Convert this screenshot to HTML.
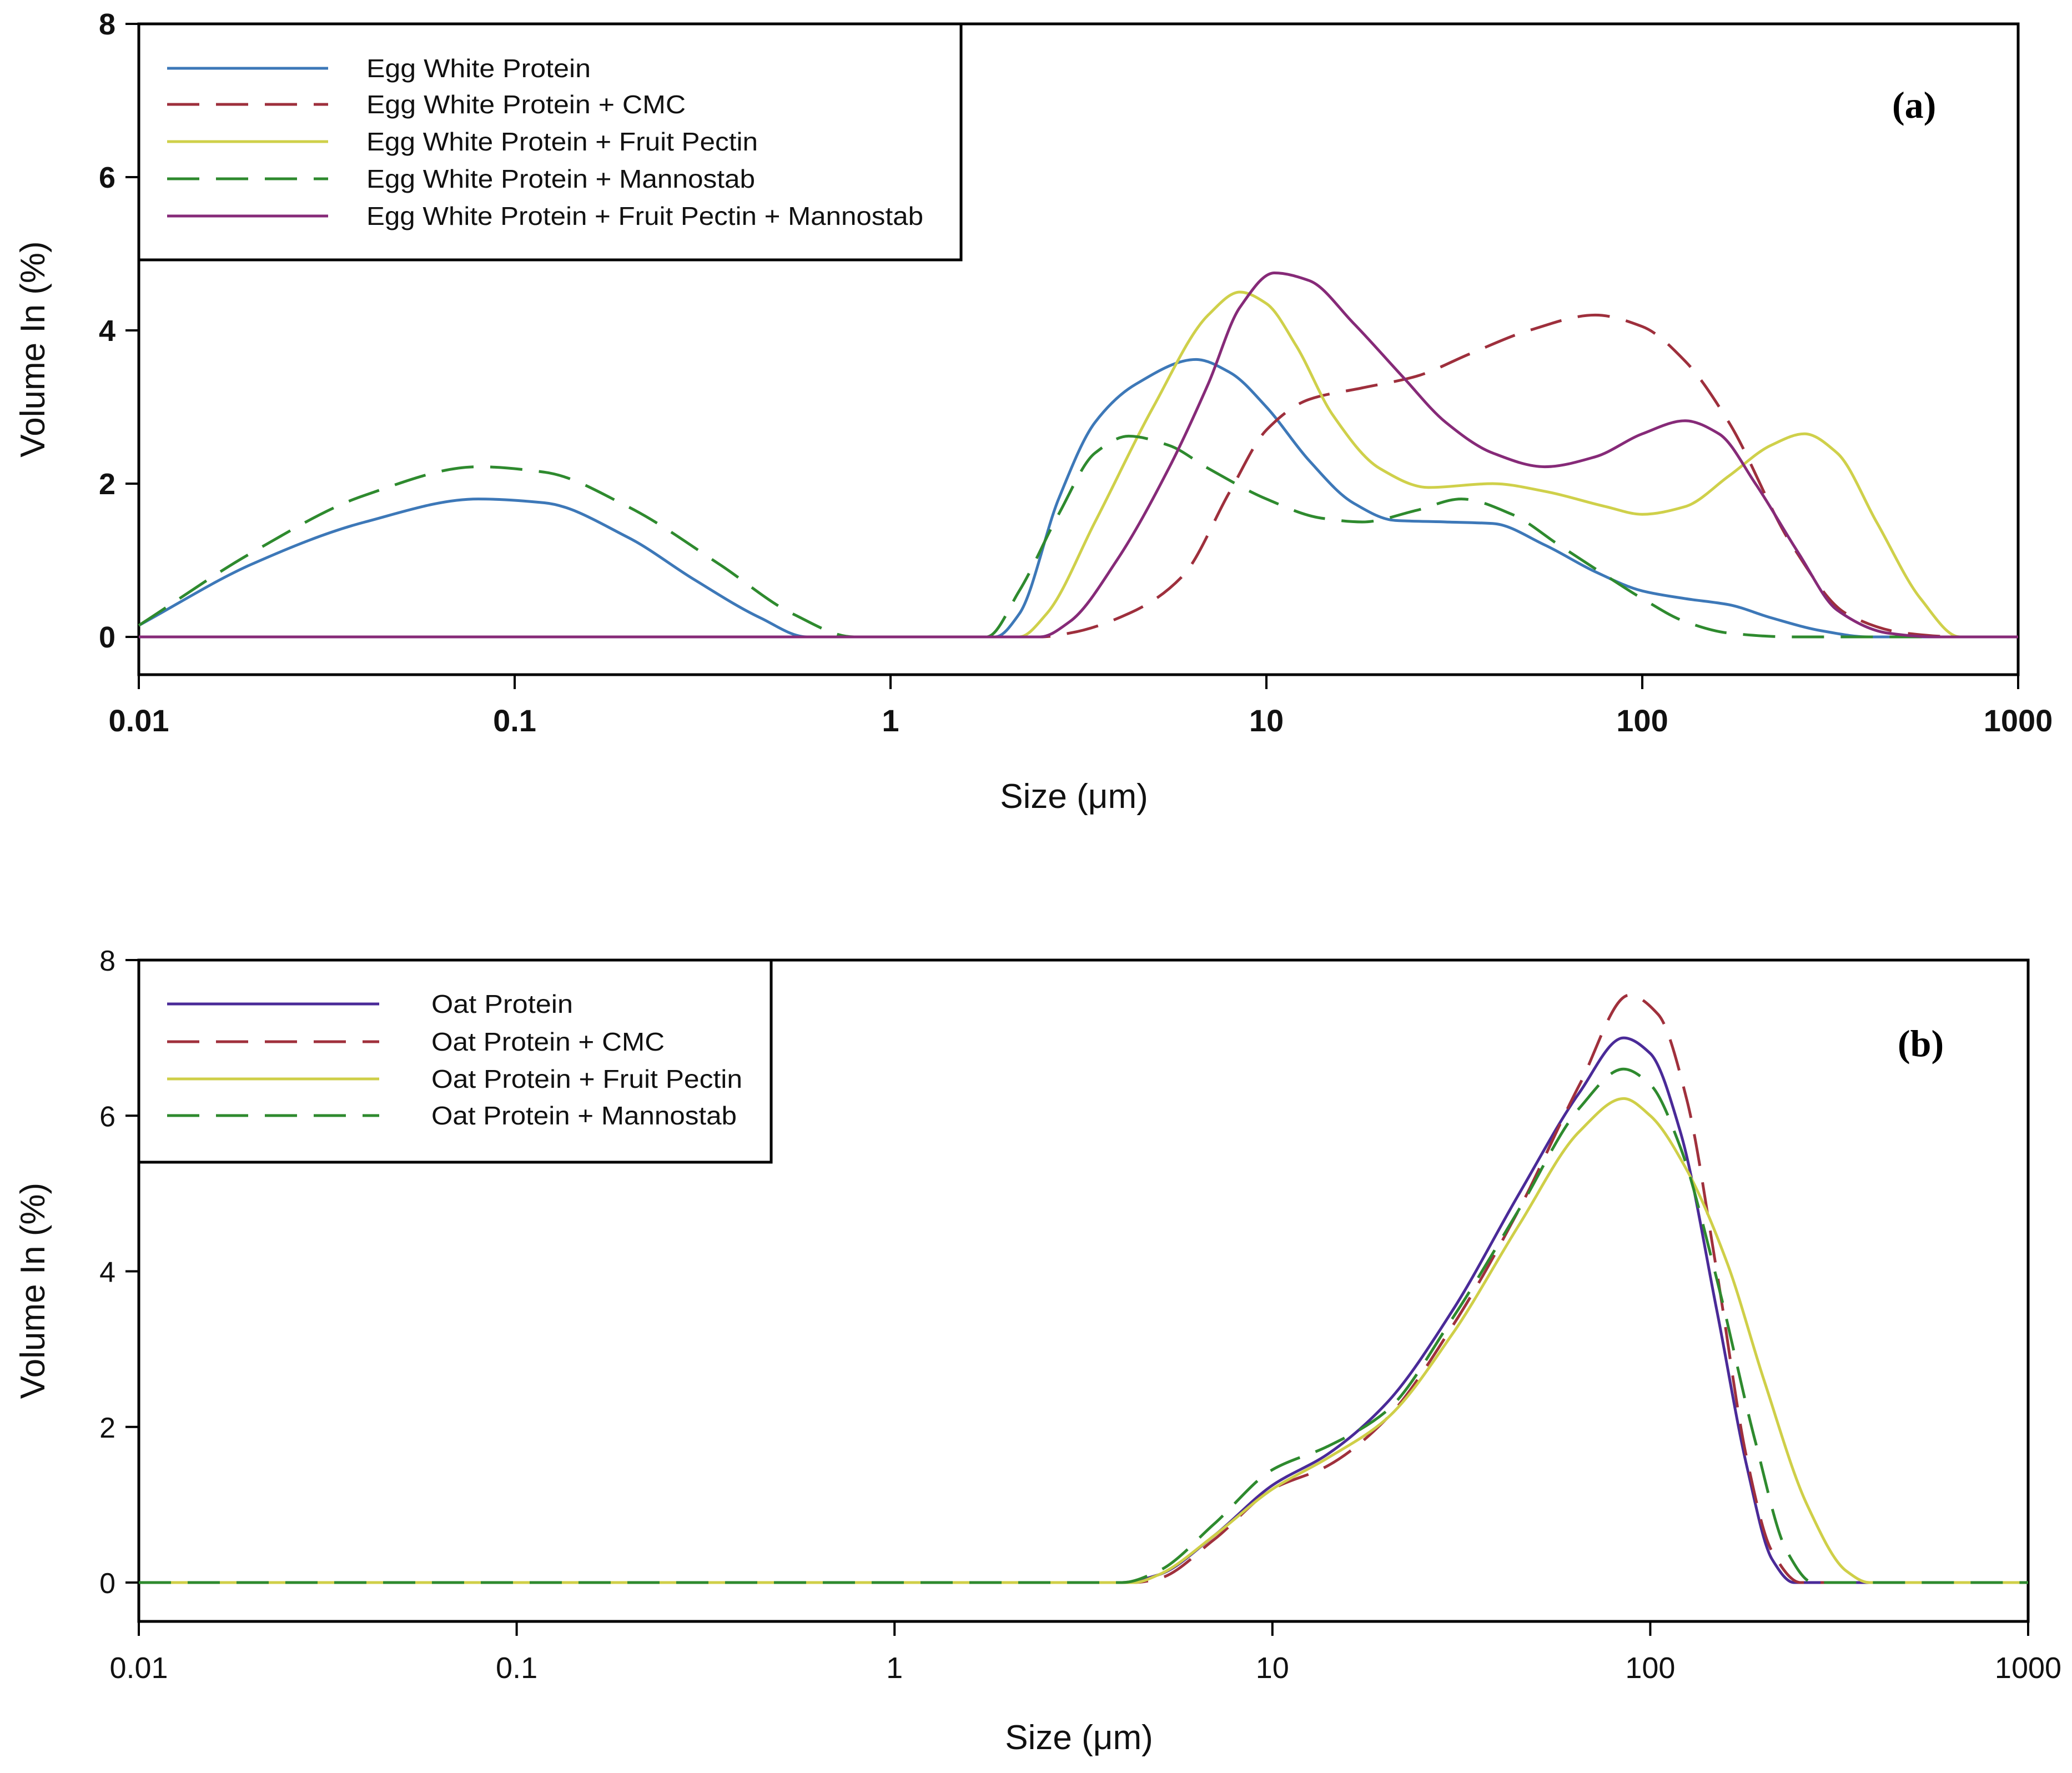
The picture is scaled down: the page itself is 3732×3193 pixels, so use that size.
<!DOCTYPE html>
<html><head><meta charset="utf-8"><style>
html,body{margin:0;padding:0;background:#fff;}
svg{display:block;font-family:"Liberation Sans",sans-serif;}
</style></head><body>
<svg id="fig" width="3732" height="3193" viewBox="0 0 3732 3193" xmlns="http://www.w3.org/2000/svg"></svg>
<script>
// ---------- data ----------
const xTickLabels = ["0.01","0.1","1","10","100","1000"];
const yTickLabels = ["0","2","4","6","8"];
const seriesNamesA = ["Egg White Protein","Egg White Protein + CMC","Egg White Protein + Fruit Pectin","Egg White Protein + Mannostab","Egg White Protein + Fruit Pectin + Mannostab"];
const seriesNamesB = ["Oat Protein","Oat Protein + CMC","Oat Protein + Fruit Pectin","Oat Protein + Mannostab"];
// panel (a) [size µm, volume %]
const ewp = [[0.01,0.15],[0.02,0.95],[0.04,1.5],[0.08,1.8],[0.12,1.75],[0.2,1.3],[0.3,0.75],[0.45,0.25],[0.6,0],[1.9,0],[2.2,0.3],[2.8,1.8],[3.5,2.8],[4.5,3.3],[6.5,3.62],[8,3.45],[10,3.0],[13,2.3],[17,1.75],[22,1.52],[30,1.5],[40,1.48],[55,1.2],[75,0.85],[100,0.6],[130,0.5],[170,0.42],[220,0.25],[300,0.08],[400,0],[1000,0]];
const ewpCmc = [[0.01,0],[2.5,0],[3,0.05],[4.5,0.35],[6,0.8],[8,1.9],[10,2.7],[13,3.1],[18,3.25],[25,3.4],[35,3.7],[50,4.0],[75,4.2],[100,4.05],[130,3.6],[170,2.8],[250,1.2],[350,0.3],[500,0.05],[700,0],[1000,0]];
const ewpPectin = [[0.01,0],[2.2,0],[2.6,0.3],[3.5,1.5],[5,3.0],[7,4.2],[8.5,4.5],[10,4.35],[12,3.8],[15,2.9],[20,2.2],[27,1.95],[40,2.0],[55,1.9],[80,1.7],[100,1.6],[130,1.7],[170,2.1],[220,2.5],[270,2.65],[330,2.4],[420,1.5],[550,0.5],[700,0],[1000,0]];
const ewpManno = [[0.01,0.15],[0.02,1.1],[0.04,1.85],[0.08,2.22],[0.12,2.15],[0.2,1.7],[0.35,0.95],[0.55,0.3],[0.8,0],[1.8,0],[2.2,0.6],[2.8,1.6],[3.5,2.4],[4.3,2.62],[5.5,2.5],[7,2.2],[10,1.8],[14,1.55],[18,1.5],[25,1.65],[33,1.8],[45,1.6],[60,1.2],[80,0.8],[100,0.5],[130,0.2],[170,0.05],[250,0],[1000,0]];
const ewpPecManno = [[0.01,0],[2.5,0],[3,0.2],[4,1.0],[5.5,2.2],[7,3.3],[8.5,4.3],[10.5,4.75],[13,4.65],[17,4.1],[23,3.4],[30,2.8],[40,2.4],[55,2.22],[75,2.35],[100,2.65],[130,2.82],[160,2.65],[200,2.0],[260,1.1],[330,0.35],[450,0.05],[600,0],[1000,0]];
// panel (b)
const oat = [[0.01,0],[4,0],[5,0.1],[7,0.6],[10,1.25],[14,1.65],[20,2.3],[30,3.5],[45,5.0],[65,6.3],[85,7.0],[100,6.8],[120,5.8],[150,3.5],[180,1.5],[210,0.3],[240,0],[1000,0]];
const oatCmc = [[0.01,0],[4.3,0],[5,0.05],[7,0.55],[10,1.2],[14,1.5],[20,2.1],[30,3.3],[45,4.8],[65,6.4],[88,7.55],[105,7.3],[125,6.2],[150,4.0],[180,1.6],[210,0.4],[250,0],[1000,0]];
const oatPectin = [[0.01,0],[4.3,0],[5,0.1],[7,0.6],[10,1.2],[14,1.6],[20,2.1],[30,3.2],[45,4.6],[65,5.8],[85,6.22],[100,6.0],[125,5.3],[160,4.1],[200,2.6],[260,1.0],[330,0.15],[380,0],[1000,0]];
const oatManno = [[0.01,0],[4,0],[5,0.15],[7,0.75],[10,1.45],[14,1.75],[20,2.2],[30,3.4],[45,4.8],[65,6.1],[85,6.6],[100,6.4],[120,5.6],[150,3.9],[190,1.8],[230,0.4],[270,0],[1000,0]];

// ---------- drawing ----------
const NS="http://www.w3.org/2000/svg";
const svg=document.getElementById('fig');
function mk(tag,attrs,parent){const e=document.createElementNS(NS,tag);for(const k in attrs)e.setAttribute(k,attrs[k]);(parent||svg).appendChild(e);return e;}
// monotone cubic (Fritsch-Carlson) in pixel space; x strictly increasing
function smooth(p){const n=p.length,dx=[],sl=[],m=[];
 for(let i=0;i<n-1;i++){dx[i]=p[i+1][0]-p[i][0];sl[i]=(p[i+1][1]-p[i][1])/dx[i];}
 m[0]=sl[0];m[n-1]=sl[n-2];
 for(let i=1;i<n-1;i++){if(sl[i-1]*sl[i]<=0)m[i]=0;else{const w1=2*dx[i]+dx[i-1],w2=dx[i]+2*dx[i-1];m[i]=(w1+w2)/(w1/sl[i-1]+w2/sl[i]);}}
 if(sl[0]===0)m[0]=0; if(sl[n-2]===0)m[n-1]=0;
 let d=`M${p[0][0].toFixed(1)},${p[0][1].toFixed(1)}`;
 for(let i=0;i<n-1;i++){const h=dx[i]/3;
  d+=` C${(p[i][0]+h).toFixed(1)},${(p[i][1]+m[i]*h).toFixed(1)} ${(p[i+1][0]-h).toFixed(1)},${(p[i+1][1]-m[i+1]*h).toFixed(1)} ${p[i+1][0].toFixed(1)},${p[i+1][1].toFixed(1)}`;}
 return d;}

function panel(cfg){
 const g=mk('g',{});
 
 
 const X=v=>cfg.left+(Math.log10(v)+2)/5*(cfg.right-cfg.left);
 const Y=v=>cfg.y0-v/8*(cfg.y0-cfg.y8);
 const fr=mk('path',{d:`M${cfg.left},${cfg.y8} H${cfg.right} V${cfg.bottom} H${cfg.left} Z`,fill:'none',stroke:'#000','stroke-width':5},g);
 
 yTickLabels.forEach(t=>{const y=Y(+t);
  mk('line',{x1:cfg.left-24,x2:cfg.left,y1:y,y2:y,stroke:'#000','stroke-width':4},g);
  const tx=mk('text',{x:cfg.left-42,y:y+19,'text-anchor':'end','font-size':cfg.bold?54:52,'font-weight':cfg.bold?'bold':'normal',fill:'#111'},g);
  tx.textContent=t;});
 xTickLabels.forEach(t=>{const x=X(+t);
  mk('line',{x1:x,x2:x,y1:cfg.bottom,y2:cfg.bottom+26,stroke:'#000','stroke-width':4},g);
  const tx=mk('text',{x:x,y:cfg.bottom+102,'text-anchor':'middle','font-size':cfg.bold?56:54,'font-weight':cfg.bold?'bold':'normal',fill:'#111'},g);
  tx.textContent=t;});
 const xt=mk('text',{x:(cfg.left+cfg.right)/2-8,y:cfg.xTitleY,'text-anchor':'middle','font-size':62,fill:'#111'},g);
 xt.textContent='Size (μm)';
 const ym=(cfg.y8+cfg.bottom)/2;
 const yt=mk('text',{x:0,y:0,transform:`translate(80,${ym}) rotate(-90)`,'text-anchor':'middle','font-size':62,fill:'#111'},g);
 yt.textContent='Volume In (%)';
 cfg.series.forEach((s,i)=>{
  const pts=s.data.map(p=>[X(p[0]),Y(p[1])]);
  const a={d:smooth(pts),fill:'none',stroke:s.color,'stroke-width':5,'stroke-linejoin':'round'};
  if(s.dash)a['stroke-dasharray']='58 30';
  const p=mk('path',a,g);
  
  
 });
 const lg=mk('g',{},g);
 
 
 mk('rect',{x:cfg.left,y:cfg.y8,width:cfg.legW,height:cfg.legH,fill:'#fff',stroke:'#000','stroke-width':5},lg);
 cfg.series.forEach((s,i)=>{const y=cfg.legRows[i];
  const a={x1:301,x2:cfg.legLineEnd,y1:y,y2:y,stroke:s.color,'stroke-width':5};
  if(s.dash)a['stroke-dasharray']='58 30';
  mk('line',a,lg);
  const tx=mk('text',{x:cfg.legTextX,y:y+16,'font-size':46,fill:'#111',textLength:s.tl,lengthAdjust:'spacingAndGlyphs'},lg);
  tx.textContent=s.name;});
 const lab=mk('text',{x:cfg.labX,y:cfg.labY,'font-size':68,'font-weight':'bold','font-family':'Liberation Serif, serif',fill:'#000'},g);
 lab.textContent=cfg.label;
}

panel({name:'panel-a',left:250,right:3635,y0:1147,y8:43,bottom:1215,bold:true,xTitleY:1455,
 legW:1481,legH:425,legRows:[123,188,255,322,389],legLineEnd:591,legTextX:660,label:'(a)',labX:3408,labY:212,
 series:[
  {name:seriesNamesA[0],data:ewp,color:'#3d78b8',dash:false,tl:404},
  {name:seriesNamesA[1],data:ewpCmc,color:'#9e2f3c',dash:true,tl:575},
  {name:seriesNamesA[2],data:ewpPectin,color:'#cfd04a',dash:false,tl:705},
  {name:seriesNamesA[3],data:ewpManno,color:'#2e8a2e',dash:true,tl:700},
  {name:seriesNamesA[4],data:ewpPecManno,color:'#862a78',dash:false,tl:1003}]});
panel({name:'panel-b',left:250,right:3653,y0:2850,y8:1729,bottom:2920,bold:false,xTitleY:3150,
 legW:1139,legH:364,legRows:[1808,1876,1943,2009],legLineEnd:683,legTextX:777,label:'(b)',labX:3418,labY:1902,
 series:[
  {name:seriesNamesB[0],data:oat,color:'#4a2a98',dash:false,tl:255},
  {name:seriesNamesB[1],data:oatCmc,color:'#a0303c',dash:true,tl:420},
  {name:seriesNamesB[2],data:oatPectin,color:'#cfcf48',dash:false,tl:560},
  {name:seriesNamesB[3],data:oatManno,color:'#2e8a2e',dash:true,tl:550}]});
</script>
</body></html>
